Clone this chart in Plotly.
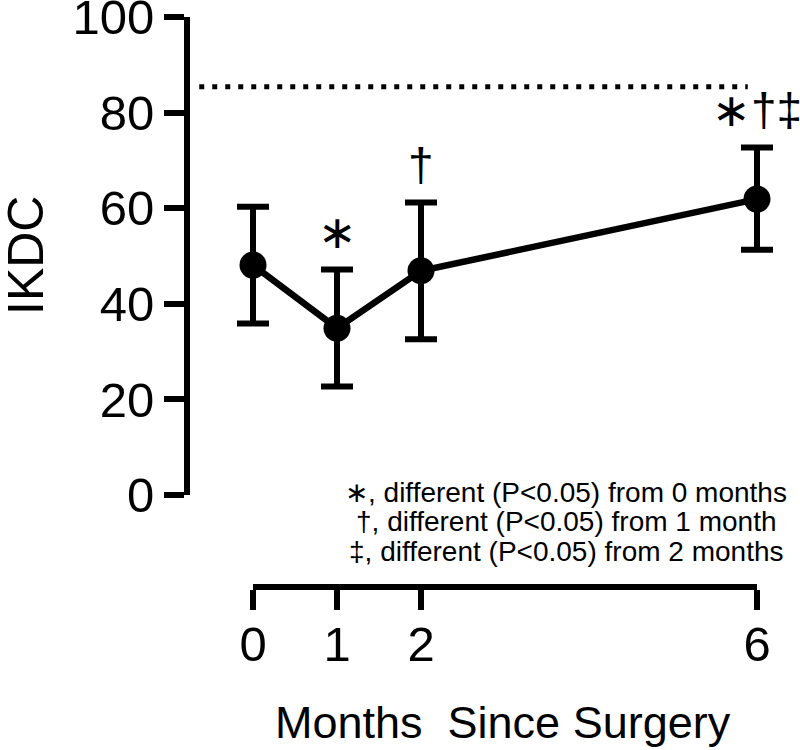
import plotly.graph_objects as go

# ---- data ----
months = [0, 1, 2, 6]
ikdc_mean = [48.1, 34.9, 46.9, 61.9]
ikdc_err_plus = [12.2, 12.3, 14.3, 10.8]
ikdc_err_minus = [12.2, 12.2, 14.3, 10.6]
sig_marks = ["", "\u2217", "\u2020", "\u2217\u2020\u2021"]
reference_level = 85.4
reference_x = [-0.64, 5.89]
x_ticks = [0, 1, 2, 6]
y_ticks = [0, 20, 40, 60, 80, 100]
legend_lines = [
    "\u2217, different (P<0.05) from 0 months",
    "\u2020, different (P<0.05) from 1 month",
    "\u2021, different (P<0.05) from 2 months",
]

W, H = 800, 750
FONT = "Liberation Sans, Arial, sans-serif"
OFF = 0  # body margin removed via post_script


def px(x):
    """page pixel x -> paper fraction"""
    return (x - OFF) / W


def py(y):
    """page pixel y -> paper fraction"""
    return 1 - (y - OFF) / H


# pixel geometry of the reference (page pixels)
x0_px, x6_px = 253, 757
unit = (x6_px - x0_px) / 6.0
yaxis_line_px = 187
xaxis_line_py = 587
ytop_py, ybot_py = 17, 495
LW = 6
x_dom_left = yaxis_line_px + LW / 2

fig = go.Figure()

fig.add_trace(go.Scatter(
    x=reference_x, y=[reference_level] * 2, mode="lines",
    line=dict(color="black", width=5, dash="5px,8px"),
    hoverinfo="skip", showlegend=False,
))

fig.add_trace(go.Scatter(
    x=months, y=ikdc_mean, mode="lines+markers",
    line=dict(color="black", width=6.5),
    marker=dict(color="black", size=27),
    error_y=dict(type="data", symmetric=False, array=ikdc_err_plus,
                 arrayminus=ikdc_err_minus, color="black",
                 thickness=6, width=16),
    cliponaxis=False, showlegend=False,
))

# invisible trace to anchor the separate bottom axis
fig.add_trace(go.Scatter(
    x=[0, 6], y=[0, 0], xaxis="x2", yaxis="y2", mode="markers",
    marker=dict(opacity=0), hoverinfo="skip", showlegend=False,
))

annotations = []
for m, mean, ep, s in zip(months, ikdc_mean, ikdc_err_plus, sig_marks):
    if s:
        annotations.append(dict(
            x=m, y=mean + ep, xref="x", yref="y",
            text=s, showarrow=False, yanchor="bottom", yshift=9,
            font=dict(size=46, color="black", family=FONT),
        ))

for i, t in enumerate(legend_lines):
    annotations.append(dict(
        x=px(566), y=py(492 + 29.5 * i), xref="paper", yref="paper",
        text=t, showarrow=False, xanchor="center", yanchor="middle",
        font=dict(size=28, color="black", family=FONT),
    ))

annotations.append(dict(
    x=px(26), y=py(256), xref="paper", yref="paper", text="IKDC",
    showarrow=False, textangle=-90, xanchor="center", yanchor="middle",
    font=dict(size=50, color="black", family=FONT),
))
annotations.append(dict(
    x=px(503), y=py(722), xref="paper", yref="paper",
    text="Months&nbsp;&nbsp;Since Surgery",
    showarrow=False, xanchor="center", yanchor="middle",
    font=dict(size=45, color="black", family=FONT),
))

fig.update_layout(
    template="none",
    width=W, height=H,
    margin=dict(l=0, r=0, t=0, b=0, pad=0),
    paper_bgcolor="white", plot_bgcolor="rgba(0,0,0,0)",
    showlegend=False,
    font=dict(family=FONT, color="black"),
    xaxis=dict(
        domain=[px(x_dom_left), 1.0],
        range=[(x_dom_left - x0_px) / unit, (W + OFF - x0_px) / unit],
        visible=False, showgrid=False, zeroline=False, automargin=False,
    ),
    yaxis=dict(
        domain=[py(ybot_py), py(ytop_py)], range=[0, 100.001],
        anchor="x",
        showline=True, linewidth=LW, linecolor="black",
        ticks="outside", ticklen=20, tickwidth=6, tickcolor="black",
        tickvals=y_ticks, ticktext=[str(v) for v in y_ticks],
        tickfont=dict(size=49, color="black", family=FONT),
        ticklabeloverflow="allow",
        showgrid=False, zeroline=False, automargin=False,
    ),
    xaxis2=dict(
        domain=[px(x0_px), px(x6_px)], range=[0, 6],
        anchor="y2", side="bottom",
        showline=True, linewidth=LW, linecolor="black",
        ticks="outside", ticklen=20, tickwidth=6, tickcolor="black",
        tickvals=x_ticks, ticktext=[str(v) for v in x_ticks],
        tickfont=dict(size=49, color="black", family=FONT),
        ticklabelstandoff=-8, ticklabeloverflow="allow",
        showgrid=False, zeroline=False, automargin=False,
    ),
    yaxis2=dict(
        domain=[py(xaxis_line_py - LW / 2), py(xaxis_line_py - LW / 2 - 6)],
        range=[0, 1],
        anchor="x2", visible=False, showgrid=False, zeroline=False,
        automargin=False,
    ),
    annotations=annotations,
)

fig.write_html(
    "out.html",
    config={"displayModeBar": False},
    post_script="document.body.style.margin='0';document.body.style.overflow='hidden';",
)
